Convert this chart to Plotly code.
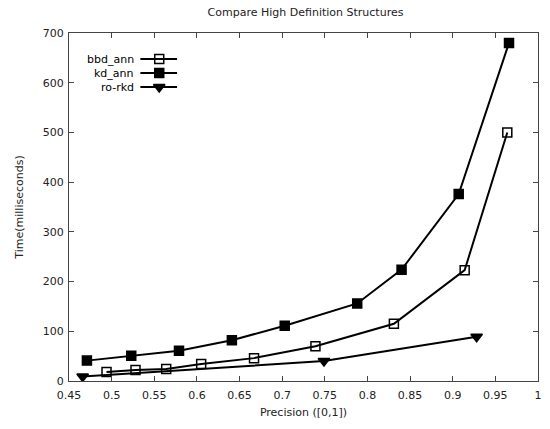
import plotly.graph_objects as go

# Data
bbd_x = [0.494, 0.528, 0.564, 0.605, 0.667, 0.739, 0.831, 0.914, 0.964]
bbd_y = [18, 22, 24, 34, 46, 70, 115, 223, 500]
kd_x = [0.471, 0.523, 0.579, 0.641, 0.703, 0.788, 0.840, 0.907, 0.966]
kd_y = [41, 51, 61, 82, 111, 156, 224, 376, 680]
ro_x = [0.466, 0.749, 0.928]
ro_y = [9, 40, 89]

names = ["bbd_ann", "kd_ann", "ro-rkd"]
symbols = ["square-open", "square", "triangle-down"]

FONT = "DejaVu Sans"
L, R, T, B = 69, 8, 33, 48
W, H = 550, 429

fig = go.Figure()
series = [(bbd_x, bbd_y), (kd_x, kd_y), (ro_x, ro_y)]
for (xs, ys), nm, sym in zip(series, names, symbols):
    fig.add_trace(go.Scatter(
        x=xs, y=ys, mode="lines+markers", name=nm, showlegend=False,
        line=dict(color="black", width=2),
        marker=dict(symbol=sym, size=10 if sym == "triangle-down" else 9,
                    color="black", line=dict(color="black", width=1.5)),
    ))

# custom gnuplot-style legend (text right-aligned, sample to the right)
row_y = [59, 73, 87]
pw = W - L - R
ph = H - T - B
for nm, sym, py in zip(names, symbols, row_y):
    yy = 1 - (py - T) / ph
    x0 = (141 - L) / pw
    x1 = (178 - L) / pw
    xm = (160 - L) / pw
    fig.add_trace(go.Scatter(
        x=[x0, x1], y=[yy, yy], mode="lines", xaxis="x2", yaxis="y2",
        line=dict(color="black", width=2), showlegend=False, hoverinfo="skip"))
    fig.add_trace(go.Scatter(
        x=[xm], y=[yy], mode="markers", xaxis="x2", yaxis="y2",
        marker=dict(symbol=sym, size=10 if sym == "triangle-down" else 9,
                    color="black", line=dict(color="black", width=1.5)),
        showlegend=False, hoverinfo="skip"))
    fig.add_annotation(x=(137 - L) / pw, y=yy, xref="x2", yref="y2",
                       text=nm, showarrow=False, xanchor="right", yanchor="middle",
                       font=dict(family=FONT, size=11, color="black"))

axis_common = dict(
    showline=True, linecolor="#444", linewidth=1, mirror="ticks",
    ticks="inside", ticklen=5, tickcolor="#444", tickwidth=1,
    showgrid=False, zeroline=False,
    tickfont=dict(family=FONT, size=11, color="#222"),
)

fig.update_layout(
    width=W, height=H,
    margin=dict(l=L, r=R, t=T, b=B),
    paper_bgcolor="white", plot_bgcolor="white",
    title=dict(text="Compare High Definition Structures", x=(L + pw / 2) / W,
               xanchor="center", y=1 - 12 / H, yanchor="middle",
               font=dict(family=FONT, size=11, color="#222")),
    xaxis=dict(range=[0.45, 1.0], dtick=0.05, tick0=0.45, tickformat="",
               ticklabelstandoff=4,
               title=dict(text="Precision ([0,1])", standoff=7,
                          font=dict(family=FONT, size=11, color="#222")),
               **axis_common),
    yaxis=dict(range=[0, 700], dtick=100, ticklabelstandoff=2,
               title=dict(text="Time(milliseconds)", standoff=16,
                          font=dict(family=FONT, size=11, color="#222")),
               **axis_common),
    xaxis2=dict(range=[0, 1], overlaying="x", visible=False, fixedrange=True),
    yaxis2=dict(range=[0, 1], overlaying="y", visible=False, fixedrange=True),
    showlegend=False,
)

fig.write_html("out.html")
